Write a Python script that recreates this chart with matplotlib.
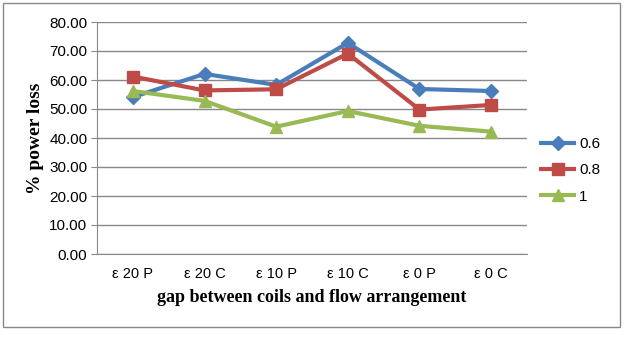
import numpy as np
import matplotlib.pyplot as plt
from matplotlib.patches import Rectangle

categories = ['ε 20 P', 'ε 20 C', 'ε 10 P', 'ε 10 C', 'ε 0 P', 'ε 0 C']
s06 = [54.1, 62.1, 58.3, 72.8, 56.9, 56.2]
s08 = [61.2, 56.4, 56.8, 69.1, 49.8, 51.4]
s1 = [56.2, 52.8, 43.9, 49.3, 44.2, 42.2]
series_names = ['0.6', '0.8', '1']

fig = plt.figure(figsize=(6.27, 3.37), dpi=100)
fig.patches.append(Rectangle((3/627, 1-327/337), 617/627, 324/337, transform=fig.transFigure,
                             fill=False, edgecolor='#888888', lw=1))
ax = fig.add_axes([97/627, 1-254/337, 430/627, 232/337])

x = np.arange(len(categories))
ax.plot(x, s06, color='#4A7EBB', lw=3, marker='D', ms=7, label=series_names[0])
ax.plot(x, s08, color='#BE4B48', lw=3, marker='s', ms=9, label=series_names[1])
ax.plot(x, s1, color='#98B954', lw=3, marker='^', ms=9, label=series_names[2])

ax.set_xlim(-0.5, len(categories) - 0.5)
ax.set_ylim(0, 80)
ax.set_yticks(np.arange(0, 81, 10))
ax.set_yticklabels(['%.2f' % v for v in np.arange(0, 81, 10)], fontsize=11, family='Liberation Sans')
ax.set_xticks(x)
ax.set_xticklabels(categories, fontsize=10.5, family='Liberation Sans')
ax.tick_params(axis='x', length=0, pad=9)
ax.tick_params(axis='y', length=4, color='#888888', pad=3)
ax.grid(axis='y', color='#888888', lw=1)
ax.set_axisbelow(True)
for s in ['top', 'right']:
    ax.spines[s].set_visible(False)
for s in ['left', 'bottom']:
    ax.spines[s].set_color('#888888')

ax.set_xlabel('gap between coils and flow arrangement', family='Liberation Serif',
              fontweight='bold', fontsize=13, labelpad=6)
ax.set_ylabel('% power loss', family='Liberation Serif', fontweight='bold', fontsize=14, labelpad=4)

ax.legend(loc='center left', bbox_to_anchor=(1.0, 0.36), frameon=False,
          handlelength=2.2, labelspacing=0.8, handletextpad=0.3, prop={'family': 'Liberation Sans', 'size': 11})

fig.savefig('out.png', dpi=100)
